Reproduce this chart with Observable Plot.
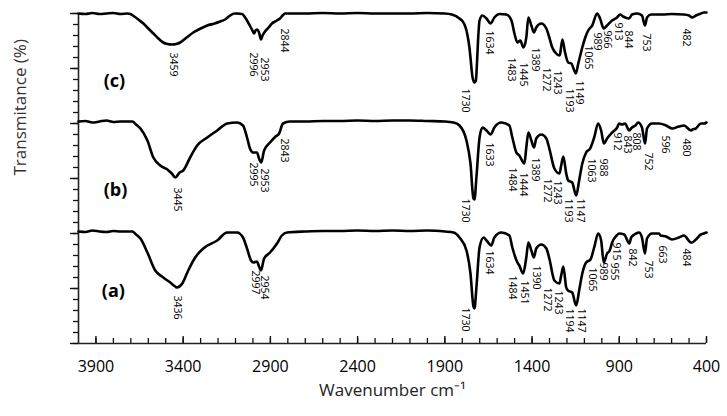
<!DOCTYPE html>
<html><head><meta charset="utf-8">
<script src="https://cdn.jsdelivr.net/npm/d3@7"></script>
<script src="https://cdn.jsdelivr.net/npm/@observablehq/plot@0.6"></script>
<style>body{margin:0;background:#fff} svg{display:block}</style>
</head><body><div id="chart"></div>
<script>
// FTIR spectra: [wavenumber cm-1, transmittance (arbitrary offset units)]
const specC = [[4000,330],[3960,329.5],[3920,330.5],[3880,329.5],[3840,330],[3800,330.5],[3760,329.5],[3720,330],[3703,329.5],[3680,327],[3650,323],[3628,320],[3600,315],[3571,310],[3548,306],[3514,301],[3490,299.5],[3463,299],[3440,299.5],[3417,301],[3380,306],[3342,311],[3300,315],[3262,318],[3220,320],[3188,322],[3160,324],[3131,328],[3105,330],[3091,330],[3062,329.5],[3045,326],[3034,323],[3015,317],[3000,312],[2994,310],[2985,313],[2977,314],[2965,311],[2954,304],[2945,308],[2931,312],[2910,316],[2891,320],[2862,323],[2845,325],[2830,328],[2816,330],[2790,330],[2700,330],[2600,330.5],[2500,330],[2400,330.5],[2300,330],[2200,330],[2100,330],[2000,330.5],[1900,330],[1860,329],[1816,325],[1790,320],[1776,313],[1759,296],[1741,266],[1730,261],[1722,263],[1715,283],[1708,308],[1701,323],[1684,328],[1661,325],[1638,320],[1616,326],[1587,329.5],[1547,329],[1518,323],[1501,310],[1484,301],[1467,303],[1450,296],[1433,306],[1421,326],[1404,318],[1389,311],[1376,316],[1347,320],[1318,315],[1301,306],[1284,296],[1267,291],[1243,288],[1240,289],[1226,304],[1212,292],[1193,281],[1175,280],[1149,270],[1135,280],[1112,296],[1095,306],[1078,313],[1055,318],[1027,330],[1010,325],[989,315],[970,318],[941,323],[913,326],[895,329],[878,327],[844,325],[827,329],[798,330],[770,328],[753,318],[741,326],[718,329],[650,329],[600,329.5],[530,329],[500,328],[482,326],[461,328],[432,330],[415,331],[400,331]];
const specB = [[4000,222],[3960,222.5],[3920,221],[3880,222],[3840,223],[3800,221.5],[3760,222],[3720,222],[3691,222],[3670,219],[3645,215],[3605,203],[3571,186],[3531,178],[3491,174],[3465,170],[3445,166],[3420,171],[3400,173],[3360,186],[3320,198],[3262,206],[3205,213],[3148,220],[3091,221],[3057,218],[3034,206],[3017,195],[3000,191],[2995,191],[2977,191],[2965,185],[2953,181],[2936,193],[2902,201],[2870,207],[2850,210],[2828,220],[2788,222],[2700,222],[2600,222.5],[2500,222.5],[2400,223],[2300,222.5],[2200,223],[2100,223],[2000,222.5],[1900,222],[1850,221],[1816,218],[1776,203],[1753,180],[1736,145],[1730,144],[1719,166],[1701,206],[1684,216],[1661,213],[1638,209],[1616,216],[1576,221],[1530,218],[1513,206],[1490,191],[1473,188],[1444,180],[1433,196],[1421,211],[1404,203],[1389,196],[1376,205],[1347,209],[1318,205],[1301,195],[1272,175],[1243,170],[1233,178],[1221,187],[1204,170],[1193,163],[1170,161],[1147,148],[1130,163],[1112,180],[1090,191],[1067,195],[1044,206],[1021,220],[1004,213],[988,200],[970,205],[941,211],[912,216],[901,220],[884,219],[867,220],[843,213],[827,216],[808,218],[792,221],[770,216],[752,200],[741,215],[712,220],[672,220],[632,218],[596,215],[558,217],[529,218],[489,213],[480,214],[461,215],[432,220],[415,220],[400,221]];
const specA = [[4000,112],[3960,111.5],[3920,113],[3880,112],[3840,111.5],[3800,112.5],[3760,112],[3720,112],[3691,112],[3670,109],[3645,105],[3605,91],[3560,73],[3514,66],[3474,61],[3445,57],[3436,56],[3405,60],[3371,73],[3331,86],[3285,95],[3205,103],[3148,111],[3091,111],[3057,106],[3034,95],[3011,83],[2997,81],[2977,82],[2965,77],[2954,73],[2936,85],[2902,91],[2862,100],[2834,108],[2805,111],[2700,112],[2600,112.5],[2500,112.5],[2400,113],[2300,112.5],[2200,113],[2100,112.5],[2000,113],[1900,112],[1850,111],[1816,106],[1776,93],[1753,70],[1736,37],[1730,35],[1719,56],[1701,96],[1678,106],[1661,103],[1634,98],[1616,106],[1576,111],[1530,108],[1513,96],[1484,81],[1473,78],[1451,70],[1433,86],[1421,101],[1404,93],[1390,86],[1376,95],[1347,99],[1318,95],[1301,85],[1272,63],[1243,60],[1233,68],[1221,77],[1204,56],[1194,53],[1170,51],[1147,38],[1130,53],[1112,70],[1090,81],[1065,84],[1044,96],[1021,110],[1004,103],[989,81],[970,90],[955,93],[941,101],[915,108],[901,110],[872,109],[842,100],[832,106],[804,110],[787,111],[770,106],[753,90],[741,105],[712,110],[672,110],[663,108],[632,107],[598,104],[558,106],[529,108],[489,101],[484,101],[461,104],[432,109],[415,110],[400,111]];

// Peak annotations: [label, wavenumber where drawn, transmittance level of label top]
const labelsC = [["3459",3457,291],["2996",3000,291],["2953",2936,286],["2844",2822,315],["1730",1781,255],["1634",1644,313],["1483",1518,286],["1445",1450,281],["1389",1381,296],["1272",1318,276],["1243",1255,273],["1193",1187,255],["1149",1130,263],["1065",1078,298],["989",1027,311],["966",970,313],["913",907,321],["844",849,313],["753",747,310],["482",518,315]];
const labelsB = [["3445",3434,156],["2995",3000,181],["2953",2936,175],["2843",2822,205],["1730",1781,145],["1633",1644,201],["1484",1513,176],["1444",1450,171],["1389",1381,186],["1272",1313,165],["1243",1255,163],["1193",1193,145],["1147",1124,145],["1063",1061,185],["988",992,185],["912",912,211],["843",855,208],["808",804,211],["752",735,191],["596",638,208],["480",518,205]];
const labelsA = [["3436",3434,48],["2997",2988,73],["2954",2936,68],["1730",1781,36],["1634",1644,93],["1484",1513,68],["1451",1444,63],["1390",1376,78],["1272",1313,56],["1243",1250,53],["1194",1187,35],["1147",1118,35],["1065",1055,76],["989",992,81],["955",930,81],["915",918,101],["842",827,95],["753",735,83],["663",655,98],["484",518,95]];
const seriesLabels = [["(c)",3794,262],["(b)",3788,153],["(a)",3800,52]];

const xTickLabels = [3900,3400,2900,2400,1900,1400,900,400];
const xMinorTicks = d3.range(400, 4000, 100);
const yMinorTicks = d3.range(0, 331, 11);
const yMajorTicks = d3.range(0, 331, 55);

const allLabels = [...labelsC, ...labelsB, ...labelsA];

const chart = Plot.plot({
  width: 727, height: 416,
  marginLeft: 78, marginRight: 21, marginTop: 13, marginBottom: 73,
  style: {fontFamily: "'Open Sans', sans-serif", background: "white", color: "black"},
  x: {domain: [4000, 400]},
  y: {domain: [0, 330], axis: null},
  marks: [
    Plot.axisX({ticks: xTickLabels, tickSize: 0, tickPadding: 17, fontSize: 16, label: null, tickFormat: d => String(d)}),
    Plot.axisX({ticks: xMinorTicks, tickSize: 5, dy: -5, fill: "none", label: null, stroke: "#111", strokeWidth: 1.3}),
    Plot.axisX({ticks: xTickLabels, tickSize: 7, dy: -7, fill: "none", label: null, stroke: "#111", strokeWidth: 1.4}),
    Plot.axisY({ticks: yMinorTicks, tickSize: 5, fill: "none", label: null, stroke: "#111", strokeWidth: 1.3}),
    Plot.axisY({ticks: yMajorTicks, tickSize: 8, fill: "none", label: null, stroke: "#111", strokeWidth: 1.4}),
    Plot.ruleX([4000], {stroke: "#222", strokeWidth: 1.6}),
    Plot.ruleY([0], {stroke: "#222", strokeWidth: 1.6}),
    Plot.line(specC, {x: d => d[0], y: d => d[1], stroke: "black", strokeWidth: 2.6, curve: "monotone-x"}),
    Plot.line(specB, {x: d => d[0], y: d => d[1], stroke: "black", strokeWidth: 2.6, curve: "monotone-x"}),
    Plot.line(specA, {x: d => d[0], y: d => d[1], stroke: "black", strokeWidth: 2.6, curve: "monotone-x"}),
    Plot.text(allLabels, {x: d => d[1], y: d => d[2], text: d => d[0], rotate: 90, textAnchor: "start", lineAnchor: "middle", fontSize: 10.5, fill: "black"}),
    Plot.text(seriesLabels, {x: d => d[1], y: d => d[2], text: d => d[0], fontSize: 18, fontWeight: "bold", fill: "black"}),
    Plot.text(["Wavenumber cm⁻¹"], {frameAnchor: "bottom", dy: 52, fontSize: 17, fill: "#222"}),
    Plot.text(["Transmitance (%)"], {frameAnchor: "left", rotate: -90, dx: -58, dy: -3, fontSize: 17, fill: "#333"})
  ]
});
document.getElementById("chart").appendChild(chart);
</script>
</body></html>
